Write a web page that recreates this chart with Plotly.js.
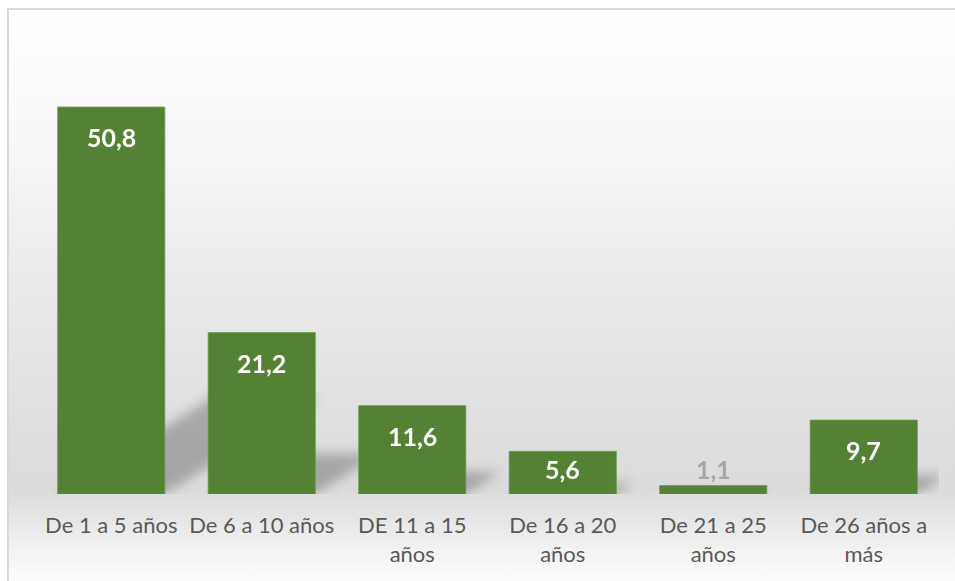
<!DOCTYPE html>
<html>
<head>
<meta charset="utf-8">
<script src="https://cdn.plot.ly/plotly-3.0.1.min.js"></script>
<style>
  html, body { margin: 0; padding: 0; width: 955px; height: 581px; overflow: hidden; background: #ffffff; }
  #frame {
    position: absolute; left: 7px; top: 8px; width: 960px; height: 590px;
    border: 2px solid #d9d9d9; box-sizing: border-box;
    background: linear-gradient(to bottom, #ffffff 0px, #fbfbfb 90px, #ececec 250px, #dfdfdf 420px, #dcdcdc 480px, #e3e3e3 500px, #f2f2f2 540px, #ffffff 580px);
  }
  #chart { position: absolute; left: 0; top: 0; width: 955px; height: 581px; }
</style>
</head>
<body>
<div id="frame"></div>
<div id="chart"></div>
<script>
const categories = ["De 1 a 5 años", "De 6 a 10 años", "DE 11 a 15<br>años", "De 16 a 20<br>años", "De 21 a 25<br>años", "De 26 años a<br>más"];
const values = [50.8, 21.2, 11.6, 5.6, 1.1, 9.7];
const labelText = values.map(v => v.toFixed(1).replace('.', ','));

const barColor = '#548235';
const FONT = 'Lato, "Open Sans", sans-serif';
const Y_MAX = 60;
const PLOT_H = 581 - 37 - 87;

const shadowTrace = {
  type: 'bar',
  x: categories,
  y: values,
  marker: { color: 'rgba(0,0,0,0.25)', line: { width: 0 } },
  hoverinfo: 'none'
};

const trace = {
  type: 'bar',
  x: categories,
  y: values,
  marker: { color: barColor, line: { width: 0.8, color: '#6c9852' } },
  hoverinfo: 'none'
};

const annotations = values.map((v, i) => {
  const inside = v > 3;
  const hPx = v / Y_MAX * PLOT_H;
  return {
    x: categories[i], y: v, xref: 'x', yref: 'y',
    text: '<b>' + labelText[i] + '</b>',
    showarrow: false,
    yanchor: 'middle', xanchor: 'center',
    yshift: inside ? -Math.min(30, hPx / 2 - 4) : 17,
    font: { family: FONT, size: 25, color: inside ? '#ffffff' : '#a6a6a6' }
  };
});

const layout = {
  width: 955, height: 581,
  margin: { l: 36, r: 16, t: 37, b: 87 },
  paper_bgcolor: 'rgba(0,0,0,0)',
  plot_bgcolor: 'rgba(0,0,0,0)',
  bargap: 0.288,
  barmode: 'overlay',
  showlegend: false,
  xaxis: {
    type: 'category',
    showline: false, showgrid: false, zeroline: false,
    ticks: '',
    ticklabelstandoff: 16,
    tickfont: { family: FONT, size: 22, color: '#595959' }
  },
  yaxis: {
    range: [0, Y_MAX],
    visible: false, showgrid: false, zeroline: false
  },
  annotations: annotations
};

Plotly.newPlot('chart', [shadowTrace, trace], layout, { staticPlot: true, displayModeBar: false }).then(gd => {
  const svg = gd.querySelector('svg.main-svg');
  const defs = svg.querySelector('defs');
  const NS = 'http://www.w3.org/2000/svg';
  const filt = document.createElementNS(NS, 'filter');
  filt.setAttribute('id', 'shadowBlur');
  filt.setAttribute('x', '-20%'); filt.setAttribute('y', '-20%');
  filt.setAttribute('width', '140%'); filt.setAttribute('height', '140%');
  const blur = document.createElementNS(NS, 'feGaussianBlur');
  blur.setAttribute('stdDeviation', '6');
  filt.appendChild(blur);
  defs.appendChild(filt);
  const traces = gd.querySelectorAll('.barlayer .trace');
  const shadowG = traces[0];
  shadowG.setAttribute('filter', 'url(#shadowBlur)');
  shadowG.querySelectorAll('path').forEach(p => {
    const b = p.getBBox();
    const x0 = b.x, yb = b.y + b.height;
    p.setAttribute('transform',
      'translate(' + x0 + ',' + yb + ') matrix(1,0,-0.40,0.25,0,0) translate(' + (-x0) + ',' + (-yb) + ')');
  });
});
</script>
</body>
</html>
